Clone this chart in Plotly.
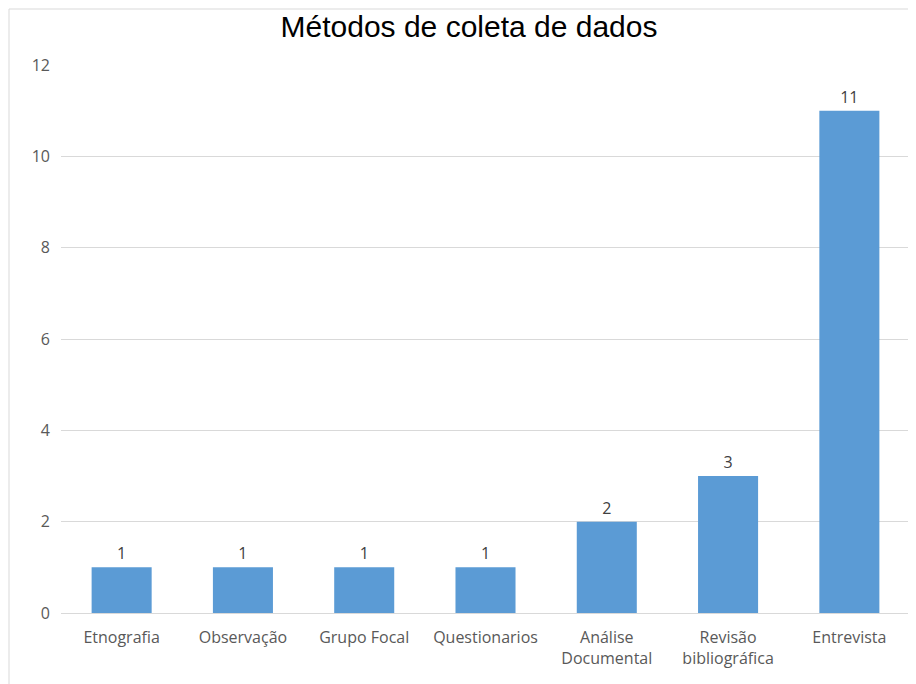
import plotly.graph_objects as go

categories = ["Etnografia", "Observação", "Grupo Focal", "Questionarios",
              "Análise<br>Documental", "Revisão<br>bibliográfica", "Entrevista"]
values = [1, 1, 1, 1, 2, 3, 11]
y_ticks = [0, 2, 4, 6, 8, 10, 12]

font_fam = "Open Sans, Noto Sans, sans-serif"

# page has an 8px body margin; figure size compensates
W, H = 908, 676
L, T = 53, 57
PW, PH = 849, 548

fig = go.Figure(go.Bar(
    x=categories, y=values, text=values, textposition="outside",
    marker=dict(color="#5B9BD5", line=dict(width=0)),
    textfont=dict(family=font_fam, size=16, color="#404040"),
    cliponaxis=False,
))

fig.update_layout(
    width=W, height=H,
    margin=dict(l=L, r=W - L - PW, t=T, b=H - T - PH, autoexpand=False),
    paper_bgcolor="white", plot_bgcolor="white",
    bargap=0.505,
    showlegend=False,
    title=dict(text="Métodos de coleta de dados", x=(469 - 8) / W, xanchor="center",
               y=1 - 18 / H, yanchor="middle",
               font=dict(family="Liberation Sans, Arial, sans-serif", size=30, color="#000000")),
    xaxis=dict(showgrid=False, showline=False, ticks="", automargin=False,
               tickfont=dict(family=font_fam, size=16, color="#595959"),
               ticklabelstandoff=13),
    yaxis=dict(range=[0, 12], tickvals=y_ticks, showgrid=True, gridcolor="#D9D9D9",
               gridwidth=1, zeroline=True, zerolinecolor="#D9D9D9", zerolinewidth=1,
               showline=False, ticks="", automargin=False,
               tickfont=dict(family=font_fam, size=16, color="#595959"),
               ticklabelstandoff=10),
    shapes=[dict(type="rect", xref="paper", yref="paper",
                 x0=(1 - L) / PW, x1=(W + 20 - L) / PW,
                 y0=-200 / PH, y1=(T + PH - 1) / PH,
                 line=dict(color="#D9D9D9", width=1), fillcolor="rgba(0,0,0,0)", layer="below")],
)

fig.write_html("out.html")
